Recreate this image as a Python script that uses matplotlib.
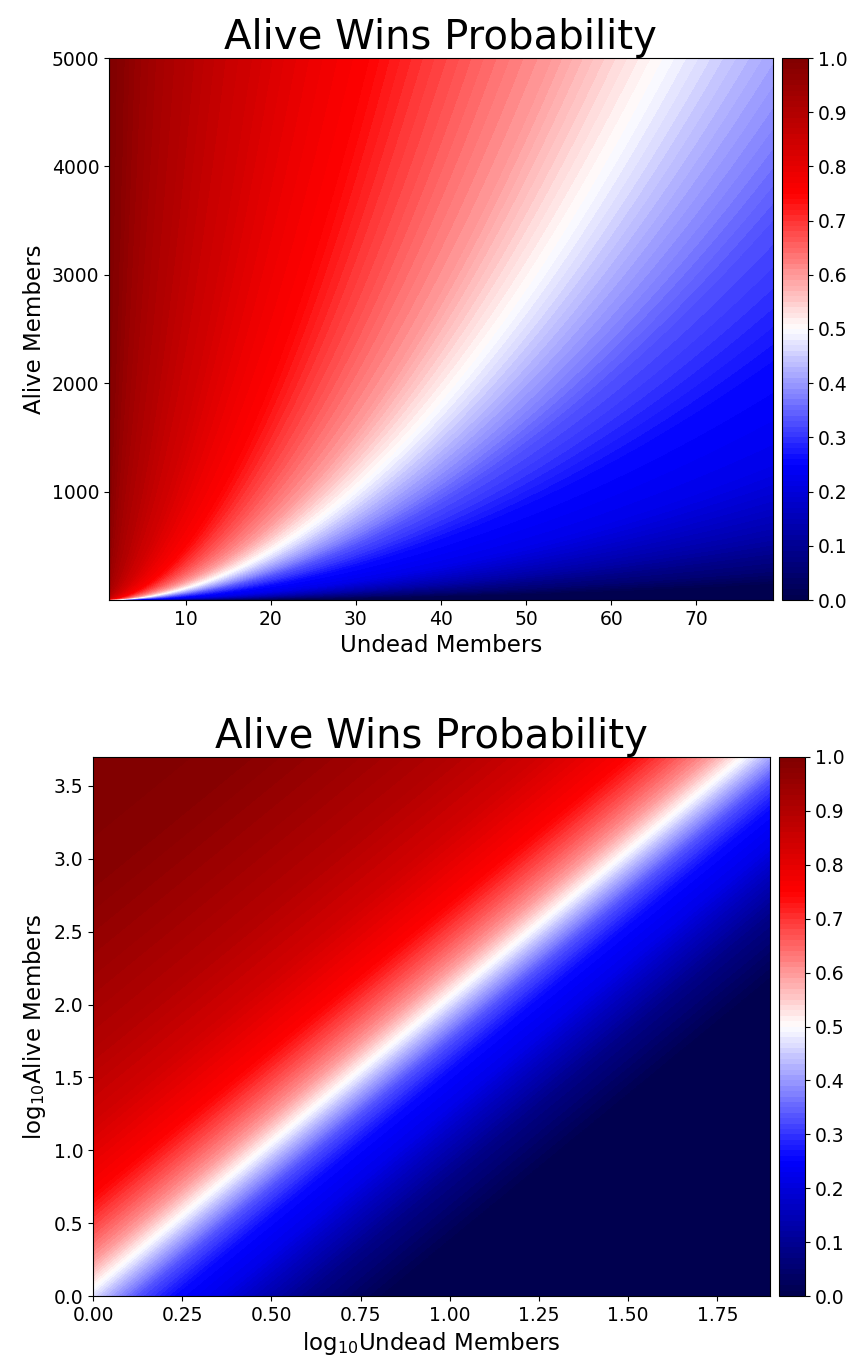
import numpy as np
import matplotlib
matplotlib.use("Agg")
import matplotlib.pyplot as plt

undead_min, undead_max = 1, 79
alive_min, alive_max = 1, 5000

# Win-probability profile, as a function of
# d = log10(alive) - 2*log10(undead)
profile_d = [-2.0, -1.6, -1.2, -0.9, -0.7, -0.45, -0.25, -0.1, 0.06, 0.25,
             0.45, 0.7, 1.2, 1.7, 2.2, 2.8, 3.5]
profile_p = [0.0, 0.01, 0.08, 0.16, 0.22, 0.26, 0.33, 0.41, 0.5, 0.6,
             0.67, 0.75, 0.84, 0.9, 0.94, 0.98, 1.0]

cbar_ticks = [0.0, 0.1, 0.2, 0.3, 0.4, 0.5, 0.6, 0.7, 0.8, 0.9, 1.0]

undead = np.linspace(undead_min, undead_max, 300)
alive = np.linspace(alive_min, alive_max, 400)
U, A = np.meshgrid(undead, alive)
P = np.interp(np.log10(A) - 2 * np.log10(U), profile_d, profile_p)

lu = np.linspace(0, np.log10(undead_max), 300)
la = np.linspace(0, np.log10(alive_max), 400)
LU, LA = np.meshgrid(lu, la)
PL = np.interp(LA - 2 * LU, profile_d, profile_p)

levels = np.linspace(0, 1, 101)

fig = plt.figure(figsize=(8.58, 13.63), dpi=100)
W, H = 858, 1363

def box(l, r, t, b):
    return [l / W, (H - b) / H, (r - l) / W, (b - t) / H]

TICK = 13.5
LAB = 16.5
TIT = 29

ax1 = fig.add_axes(box(109, 773, 58, 600))
cf1 = ax1.contourf(U, A, P, levels=levels, cmap="seismic", vmin=0, vmax=1)
ax1.set_xlim(undead_min, undead_max)
ax1.set_ylim(alive_min, alive_max)
ax1.set_title("Alive Wins Probability", fontsize=TIT)
ax1.set_xlabel("Undead Members", fontsize=LAB)
ax1.set_ylabel("Alive Members", fontsize=LAB)
ax1.set_xticks([10, 20, 30, 40, 50, 60, 70])
ax1.set_yticks([1000, 2000, 3000, 4000, 5000])
ax1.tick_params(labelsize=TICK)
cax1 = fig.add_axes(box(782, 808, 58, 600))
cb1 = fig.colorbar(cf1, cax=cax1, ticks=cbar_ticks)
cb1.ax.tick_params(labelsize=TICK)

ax2 = fig.add_axes(box(93, 770, 757, 1296))
cf2 = ax2.contourf(LU, LA, PL, levels=levels, cmap="seismic", vmin=0, vmax=1)
ax2.set_xlim(0, np.log10(undead_max))
ax2.set_ylim(0, np.log10(alive_max))
ax2.set_title("Alive Wins Probability", fontsize=TIT)
ax2.set_xlabel(r"log$_{10}$Undead Members", fontsize=LAB)
ax2.set_ylabel(r"log$_{10}$Alive Members", fontsize=LAB)
ax2.set_xticks([0.0, 0.25, 0.5, 0.75, 1.0, 1.25, 1.5, 1.75])
ax2.set_yticks([0.0, 0.5, 1.0, 1.5, 2.0, 2.5, 3.0, 3.5])
ax2.tick_params(labelsize=TICK)
cax2 = fig.add_axes(box(779, 805, 757, 1296))
cb2 = fig.colorbar(cf2, cax=cax2, ticks=cbar_ticks)
cb2.ax.tick_params(labelsize=TICK)

fig.savefig("out.png", dpi=100)
